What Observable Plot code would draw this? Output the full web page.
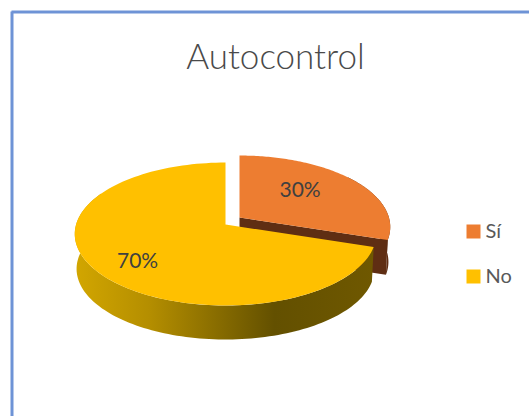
<!DOCTYPE html>
<html><head><meta charset="utf-8">
<style>html,body{margin:0;padding:0;background:#fff;overflow:hidden}svg{display:block}</style>
<script src="https://cdn.jsdelivr.net/npm/d3@7"></script>
<script src="https://cdn.jsdelivr.net/npm/@observablehq/plot@0.6"></script>
</head><body><script>
const categories = ["Sí", "No"];
const values = [30, 70];
const labels = ["30%", "70%"];
const colors = ["#ED7D31", "#FFC000"];
const title = "Autocontrol";

const W = 529, H = 416, FONT = "Lato, 'Open Sans', sans-serif";
// Perspective view of a pie of unit radius
const K = 0.133, FX = 149.4, FY = 70.2, DEPTH = 35, BOTTOM = 0.988;
const centers = [[239, 217], [225, 224]];
const total = d3.sum(values);
const project = ([cx, cy], r, a, z = 0) => {
  const u = r * Math.sin(a), v = -r * Math.cos(a), d = 1 - K * v, s = z ? BOTTOM : 1;
  return {x: cx + s * FX * u / d, y: cy + z * DEPTH + s * FY * v / d};
};
const arc = (c, a0, a1, z = 0) => d3.range(0, 121).map(i => project(c, 1, a0 + (a1 - a0) * i / 120, z));
const TAU = 2 * Math.PI;
const split = values[0] / total * TAU;

const c0 = centers[0], c1 = centers[1];
const orangeSide = [...arc(c0, 0.9, split), ...arc(c0, split, 0.9, 1)];
const orangeCut = [project(c0, 0, 0), project(c0, 1, split), project(c0, 1, split, 1), project(c0, 0, 0, 1)];
const orangeTop = [project(c0, 0, 0), ...arc(c0, 0, split)];
const yellowSide = [...arc(c1, split, 5.2), ...arc(c1, 5.2, split, 1)];
const yellowTop = [project(c1, 0, 0), ...arc(c1, split, TAU)];

const poly = (pts, fill) => Plot.line(pts, {x: "x", y: "y", fill, stroke: null, curve: "linear-closed"});
const gradient = () => {
  const s = d3.create("svg:defs");
  const g = s.append("linearGradient").attr("id", "wall").attr("gradientUnits", "userSpaceOnUse")
    .attr("x1", 75).attr("x2", 372).attr("y1", 0).attr("y2", 0);
  [[0, "#d2a600"], [0.25, "#b48e00"], [0.67, "#635000"], [1, "#6f5800"]].forEach(([o, c]) =>
    g.append("stop").attr("offset", o).attr("stop-color", c));
  return s.node();
};

const labelPts = [
  {...project(c0, 0.59, split / 2 * 0.86), label: labels[0]},
  {...project(c1, 0.736, (split + (TAU - split) / 2) * 0.976), label: labels[1]}
];
const legend = categories.map((c, i) => ({name: c, row: i}));
const legendY = d => 231 + 45 * d.row;

const frameH = [{x1: 11.5, x2: W, y: 11.5}];
const frameV = [{x: 11.5, y1: 11.5, y2: H}];

const plot = Plot.plot({
  width: W, height: H, margin: 0,
  style: {background: "#fff", fontFamily: FONT},
  x: {domain: [0, W], range: [0, W], axis: null},
  y: {domain: [0, H], range: [0, H], axis: null},
  color: {domain: categories, range: colors},
  marks: [
    gradient,
    Plot.ruleY(frameH, {x1: "x1", x2: "x2", y: "y", stroke: "#6e93d6", strokeWidth: 3}),
    Plot.ruleX(frameV, {x: "x", y1: "y1", y2: "y2", stroke: "#6e93d6", strokeWidth: 3}),
    poly(orangeSide, "#5f2e13"),
    poly(orangeCut, "#5f2e13"),
    poly(orangeTop, colors[0]),
    poly(yellowSide, "url(#wall)"),
    poly(yellowTop, colors[1]),
    Plot.text(labelPts, {x: "x", y: "y", text: "label", fontSize: 21, fill: "#404040"}),
    Plot.text([title], {x: () => 275, y: () => 57, text: d => d, fontSize: 35, fontWeight: 300, fill: "#4a4a4a"}),
    Plot.dot(legend, {x: () => 473, y: legendY, fill: "name", symbol: "square", r: 7.9}),
    Plot.text(legend, {x: () => 485, y: legendY, text: "name", textAnchor: "start", fontSize: 20, fill: "#595959"})
  ]
});
document.body.appendChild(plot);
</script></body></html>
